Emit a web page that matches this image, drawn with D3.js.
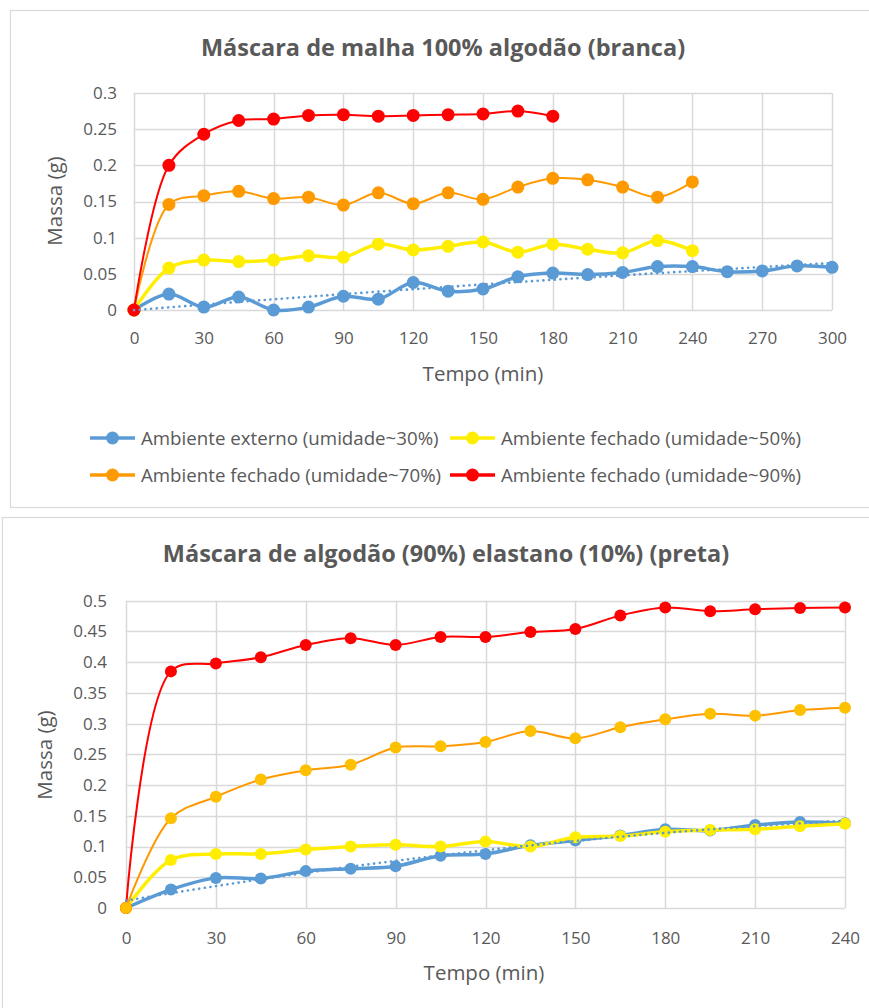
<!DOCTYPE html>
<html><head><meta charset="utf-8">
<script src="https://cdn.jsdelivr.net/npm/d3@7"></script>
<style>
body{margin:0;background:#fff;}
svg{display:block;font-family:"Open Sans",sans-serif;}
</style></head>
<body>
<svg id="c" width="869" height="1008"></svg>
<script>
// ---------- DATA ----------
const seriesNames = ["Ambiente externo (umidade~30%)","Ambiente fechado (umidade~50%)","Ambiente fechado (umidade~70%)","Ambiente fechado (umidade~90%)"];
const seriesColors = ["#5B9BD5","#FFEE00","#FF9900","#FF0000"];
const seriesMarkerColorsBottom = ["#5B9BD5","#FFEE00","#FFC000","#FF0000"];

const topTitle = "Máscara de malha 100% algodão (branca)";
const topTime = [0,15,30,45,60,75,90,105,120,135,150,165,180,195,210,225,240,255,270,285,300];
const topExterno30 = [0,0.022,0.004,0.018,0,0.004,0.019,0.015,0.038,0.026,0.029,0.046,0.051,0.049,0.052,0.060,0.060,0.053,0.054,0.061,0.059];
const topFechado50 = [0,0.058,0.069,0.067,0.069,0.075,0.073,0.091,0.083,0.088,0.094,0.080,0.091,0.084,0.079,0.096,0.082];
const topFechado70 = [0,0.146,0.158,0.164,0.154,0.156,0.145,0.162,0.147,0.162,0.153,0.170,0.182,0.180,0.170,0.156,0.177];
const topFechado90 = [0,0.200,0.243,0.262,0.264,0.269,0.270,0.268,0.269,0.270,0.271,0.275,0.268];
const topYTicks = [0,0.05,0.1,0.15,0.2,0.25,0.3];
const topXTicks = [0,30,60,90,120,150,180,210,240,270,300];

const botTitle = "Máscara de algodão (90%) elastano (10%) (preta)";
const botTime = [0,15,30,45,60,75,90,105,120,135,150,165,180,195,210,225,240];
const botExterno30 = [0,0.030,0.049,0.048,0.060,0.064,0.068,0.085,0.088,0.102,0.110,0.118,0.128,0.126,0.135,0.140,0.138];
const botFechado50 = [0,0.078,0.088,0.088,0.095,0.100,0.103,0.100,0.108,0.100,0.115,0.117,0.124,0.127,0.128,0.133,0.137];
const botFechado70 = [0,0.146,0.181,0.209,0.224,0.233,0.261,0.263,0.270,0.288,0.276,0.294,0.307,0.316,0.313,0.322,0.326];
const botFechado90 = [0,0.385,0.398,0.408,0.428,0.439,0.428,0.441,0.441,0.449,0.454,0.476,0.489,0.483,0.486,0.488,0.489];
const botYTicks = [0,0.05,0.1,0.15,0.2,0.25,0.3,0.35,0.4,0.45,0.5];
const botXTicks = [0,30,60,90,120,150,180,210,240];

const xTitle = "Tempo (min)";
const yTitle = "Massa (g)";

// ---------- DRAW ----------
const svg = d3.select("#c");
const GRID = "#D9D9D9", TXT = "#595959";

function fmt(v){ return String(+v.toFixed(2)); }

// 2nd-order polynomial trendline (least squares)
function polyFit2(xs, ys){
  const n = ys.length;
  let s0=n,s1=0,s2=0,s3=0,s4=0,t0=0,t1=0,t2=0;
  for(let i=0;i<n;i++){
    const x=xs[i], y=ys[i];
    s1+=x; s2+=x*x; s3+=x*x*x; s4+=x*x*x*x;
    t0+=y; t1+=x*y; t2+=x*x*y;
  }
  const M=[[s0,s1,s2,t0],[s1,s2,s3,t1],[s2,s3,s4,t2]];
  for(let c=0;c<3;c++){
    for(let r=c+1;r<3;r++){
      const f=M[r][c]/M[c][c];
      for(let k=c;k<4;k++) M[r][k]-=f*M[c][k];
    }
  }
  const co=[0,0,0];
  for(let r=2;r>=0;r--){
    let s=M[r][3];
    for(let k=r+1;k<3;k++) s-=M[r][k]*co[k];
    co[r]=s/M[r][r];
  }
  return x => co[0]+co[1]*x+co[2]*x*x;
}

function drawChart(cfg){
  const g = svg.append("g");
  g.append("rect").attr("x",cfg.frame[0]+0.5).attr("y",cfg.frame[1]+0.5)
    .attr("width",cfg.frame[2]).attr("height",cfg.frame[3])
    .attr("fill","#fff").attr("stroke",GRID).attr("stroke-width",1.2);

  const x = d3.scaleLinear().domain(cfg.xDomain).range([cfg.plot.l,cfg.plot.r]);
  const y = d3.scaleLinear().domain(cfg.yDomain).range([cfg.plot.b,cfg.plot.t]);

  g.append("g").selectAll("line").data(cfg.yTicks).join("line")
    .attr("x1",cfg.plot.l).attr("x2",cfg.plot.r)
    .attr("y1",d=>Math.round(y(d))+0.5).attr("y2",d=>Math.round(y(d))+0.5)
    .attr("stroke",GRID).attr("stroke-width",1.5);
  g.append("g").selectAll("line").data(cfg.xTicks).join("line")
    .attr("y1",cfg.plot.t).attr("y2",cfg.plot.b)
    .attr("x1",d=>Math.round(x(d))+0.5).attr("x2",d=>Math.round(x(d))+0.5)
    .attr("stroke",GRID).attr("stroke-width",1.5);

  const ya = g.append("g").attr("transform",`translate(${cfg.yLabelX},0)`)
    .call(d3.axisLeft(y).tickValues(cfg.yTicks).tickFormat(fmt).tickSize(0).tickPadding(0));
  const xa = g.append("g").attr("transform",`translate(0,${cfg.xLabelY})`)
    .call(d3.axisBottom(x).tickValues(cfg.xTicks).tickFormat(d3.format("d")).tickSize(0).tickPadding(0));
  [ya,xa].forEach(a=>{
    a.select(".domain").remove();
    a.selectAll("text").attr("fill",TXT).style("font-size","17px").style("font-family","'Open Sans',sans-serif");
  });
  xa.selectAll("text").attr("dy","0.71em");

  g.append("text").attr("x",cfg.titleX).attr("y",cfg.titleY).attr("text-anchor","middle")
    .attr("fill",TXT).style("font-size","23.5px").style("font-weight","bold").text(cfg.title);
  g.append("text").attr("x",cfg.xTitleX).attr("y",cfg.xTitleY).attr("text-anchor","middle")
    .attr("fill",TXT).style("font-size","20.5px").text(xTitle);
  g.append("text").attr("transform",`translate(${cfg.yTitleX},${cfg.yTitleY}) rotate(-90)`)
    .attr("text-anchor","middle").attr("fill",TXT).style("font-size","20.5px").text(yTitle);

  const line = d3.line().x(d=>x(d[0])).y(d=>y(d[1])).curve(d3.curveCatmullRom.alpha(0.5));
  const widths = [3.5,3.5,2,2];
  cfg.order.forEach(i=>{
    const vals = cfg.series[i];
    const pts = vals.map((v,k)=>[cfg.time[k],v]);
    g.append("path").attr("d",line(pts)).attr("fill","none")
      .attr("stroke",cfg.lineColors[i]).attr("stroke-width",widths[i]).attr("stroke-linejoin","round");
    g.append("g").selectAll("circle").data(pts).join("circle")
      .attr("cx",d=>x(d[0])).attr("cy",d=>y(d[1])).attr("r",cfg.r)
      .attr("fill",cfg.markerColors[i]);
  });
  // polynomial trendline of the external series
  const ext = cfg.series[0];
  const xsExt = cfg.time.slice(0, ext.length);
  const f = polyFit2(xsExt, ext);
  const tEnd = xsExt[xsExt.length-1];
  const samples = d3.range(0, 101).map(k => { const t = tEnd*k/100; return [t, f(t)]; });
  g.append("path").attr("d", d3.line().x(d=>x(d[0])).y(d=>y(d[1]))(samples))
    .attr("fill","none")
    .attr("stroke",seriesColors[0]).attr("stroke-width",2.6).attr("stroke-linecap","round")
    .attr("stroke-dasharray","0.1 5.6");
  return g;
}

drawChart({
  frame:[10,10,900,497],
  plot:{l:134,r:832,t:93,b:310},
  xDomain:[0,300], yDomain:[0,0.3],
  xTicks:topXTicks, yTicks:topYTicks,
  yLabelX:117, xLabelY:332,
  title:topTitle, titleX:443, titleY:56,
  xTitleX:483, xTitleY:381, yTitleX:62, yTitleY:201,
  time:topTime,
  series:[topExterno30,topFechado50,topFechado70,topFechado90],
  lineColors:seriesColors, markerColors:seriesColors,
  order:[0,1,2,3], r:6.5
});

const leg = svg.append("g");
const legPos = [[90,438],[450,438],[90,475],[450,475]];
seriesNames.forEach((n,i)=>{
  const [lx,ly] = legPos[i];
  const e = leg.append("g");
  e.append("line").attr("x1",lx).attr("x2",lx+45).attr("y1",ly).attr("y2",ly)
    .attr("stroke",seriesColors[i]).attr("stroke-width",3.5);
  e.append("circle").attr("cx",lx+22.5).attr("cy",ly).attr("r",6.5).attr("fill",seriesColors[i]);
  e.append("text").attr("x",lx+51).attr("y",ly).attr("dy","0.35em").attr("fill",TXT)
    .style("font-size","18.7px").text(n);
});

drawChart({
  frame:[2,517,900,520],
  plot:{l:126,r:845,t:600.7,b:908},
  xDomain:[0,240], yDomain:[0,0.5],
  xTicks:botXTicks, yTicks:botYTicks,
  yLabelX:107, xLabelY:932,
  title:botTitle, titleX:446, titleY:562,
  xTitleX:484, xTitleY:980, yTitleX:52, yTitleY:755,
  time:botTime,
  series:[botExterno30,botFechado50,botFechado70,botFechado90],
  lineColors:seriesColors, markerColors:seriesMarkerColorsBottom,
  order:[0,1,3,2], r:6
});
</script>
</body></html>
